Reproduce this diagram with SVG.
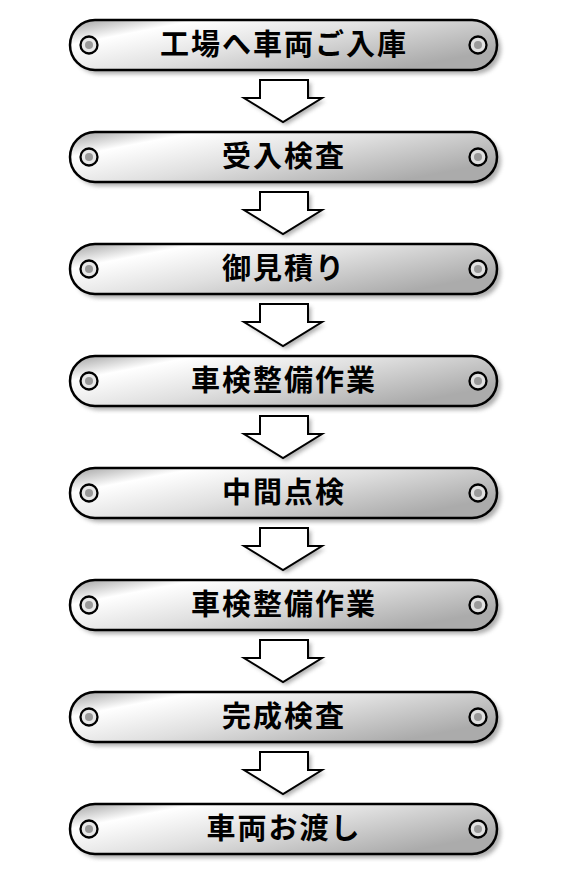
<svg xmlns="http://www.w3.org/2000/svg" width="570" height="877" viewBox="0 0 570 877">
<defs>
<linearGradient id="metal" x1="0" y1="0" x2="1" y2="0.6">
<stop offset="0" stop-color="#a0a0a0"/>
<stop offset="0.22" stop-color="#ffffff"/>
<stop offset="0.55" stop-color="#e0e0e0"/>
<stop offset="1" stop-color="#ababab"/>
</linearGradient>
<filter id="blur" x="-10%" y="-30%" width="120%" height="160%"><feGaussianBlur stdDeviation="2"/></filter>
<g id="plate">
<rect x="74" y="24" width="427" height="50" rx="25" fill="#777" opacity="0.6" filter="url(#blur)"/>
<rect x="70" y="20" width="427" height="50" rx="25" fill="url(#metal)" stroke="#000" stroke-width="2.5"/>
<circle cx="89" cy="45" r="8.5" fill="#e8e8e8" stroke="#000" stroke-width="2.3"/>
<circle cx="89" cy="45" r="4" fill="#9a9a9a"/>
<circle cx="478" cy="45" r="8.5" fill="#e0e0e0" stroke="#000" stroke-width="2.3"/>
<circle cx="478" cy="45" r="4" fill="#9a9a9a"/>
</g>
<g id="arrow">
<path d="M263,83 H311 V101 H325 L286,125 L247,101 H263 Z" fill="#777" opacity="0.6" filter="url(#blur)"/>
<path d="M260,80 H308 V98 H322 L283,122 L244,98 H260 Z" fill="#fff" stroke="#000" stroke-width="2" stroke-linejoin="miter"/>
</g>
</defs>
<style>
.t{font-family:"Noto Sans CJK JP","Noto Sans CJK SC",sans-serif;font-weight:bold;font-size:29px;fill:#000;text-anchor:middle;letter-spacing:2px}
</style>
<g id="connectors">
<use href="#arrow"/>
<use href="#arrow" y="112"/>
<use href="#arrow" y="224"/>
<use href="#arrow" y="336"/>
<use href="#arrow" y="448"/>
<use href="#arrow" y="560"/>
<use href="#arrow" y="672"/>
</g>
<g id="n1"><use href="#plate"/><text class="t" x="284" y="55">工場へ車両ご入庫</text></g>
<g id="n2"><use href="#plate" y="112"/><text class="t" x="284" y="167">受入検査</text></g>
<g id="n3"><use href="#plate" y="224"/><text class="t" x="284" y="279">御見積り</text></g>
<g id="n4"><use href="#plate" y="336"/><text class="t" x="284" y="391">車検整備作業</text></g>
<g id="n5"><use href="#plate" y="448"/><text class="t" x="284" y="503">中間点検</text></g>
<g id="n6"><use href="#plate" y="560"/><text class="t" x="284" y="615">車検整備作業</text></g>
<g id="n7"><use href="#plate" y="672"/><text class="t" x="284" y="727">完成検査</text></g>
<g id="n8"><use href="#plate" y="784"/><text class="t" x="284" y="839">車両お渡し</text></g>
</svg>
